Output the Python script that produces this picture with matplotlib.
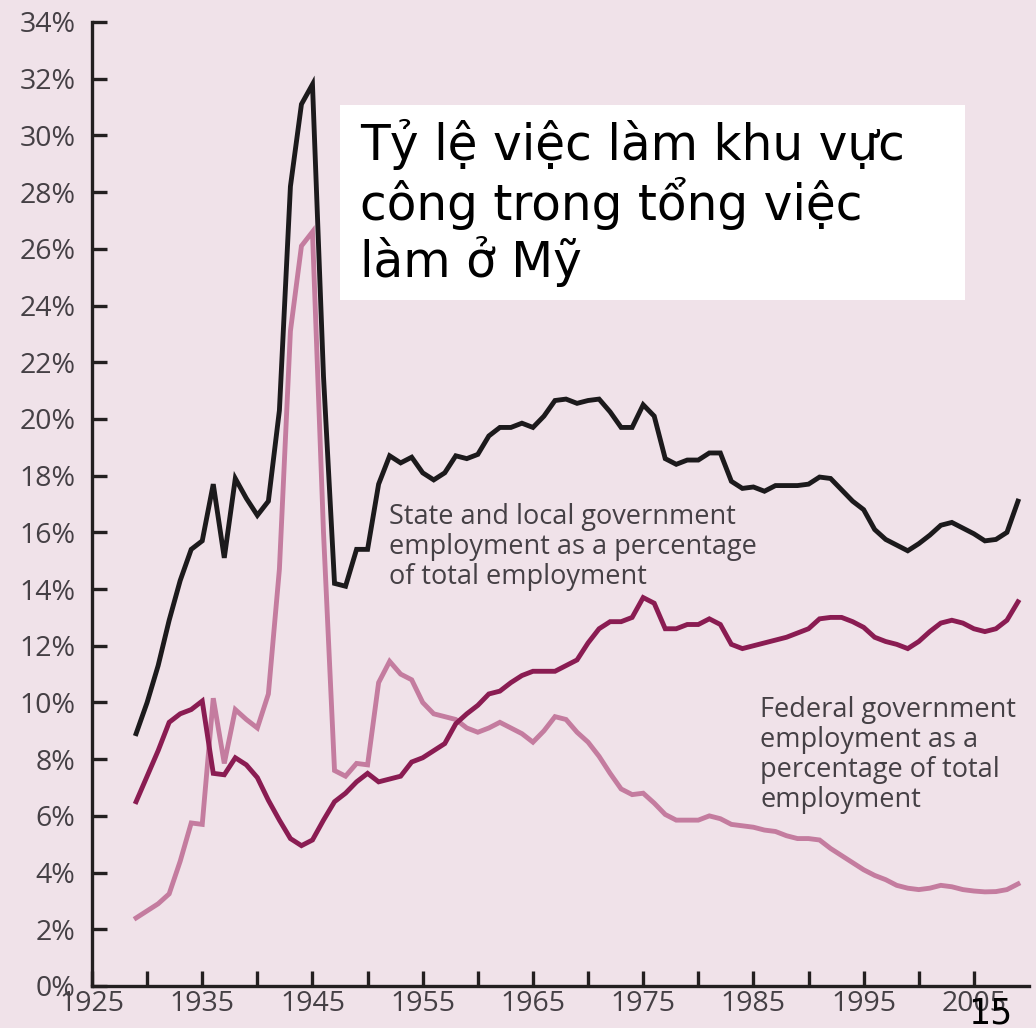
import matplotlib
import matplotlib.pyplot as plt
from matplotlib.patches import Rectangle
from matplotlib.ticker import FixedLocator

matplotlib.use("Agg")

# Data (percent of total employment)
years = list(range(1929, 2010))

total_gov = [
    8.9, 10.0, 11.3, 12.9, 14.3, 15.4, 15.7, 17.7, 15.1, 17.9,
    17.2, 16.6, 17.1, 20.3, 28.2, 31.1, 31.8, 21.5, 14.2, 14.1,
    15.4, 15.4, 17.7, 18.7, 18.45, 18.65, 18.1, 17.85, 18.1, 18.7,
    18.6, 18.75, 19.4, 19.7, 19.7, 19.85, 19.7, 20.1, 20.65, 20.7,
    20.55, 20.65, 20.7, 20.25, 19.7, 19.7, 20.5, 20.1, 18.6, 18.4,
    18.55, 18.55, 18.8, 18.8, 17.8, 17.55, 17.6, 17.45, 17.65, 17.65,
    17.65, 17.7, 17.95, 17.9, 17.5, 17.1, 16.8, 16.1, 15.75, 15.55,
    15.35, 15.6, 15.9, 16.25, 16.35, 16.15, 15.95, 15.7, 15.75, 16.0,
    17.1,
]

state_local = [
    6.5, 7.4, 8.3, 9.3, 9.6, 9.75, 10.05, 7.5, 7.45, 8.05,
    7.8, 7.35, 6.55, 5.85, 5.2, 4.95, 5.15, 5.85, 6.5, 6.8,
    7.2, 7.5, 7.2, 7.3, 7.4, 7.9, 8.05, 8.3, 8.55, 9.25,
    9.6, 9.9, 10.3, 10.4, 10.7, 10.95, 11.1, 11.1, 11.1, 11.3,
    11.5, 12.1, 12.6, 12.85, 12.85, 13.0, 13.7, 13.5, 12.6, 12.6,
    12.75, 12.75, 12.95, 12.75, 12.05, 11.9, 12.0, 12.1, 12.2, 12.3,
    12.45, 12.6, 12.95, 13.0, 13.0, 12.85, 12.65, 12.3, 12.15, 12.05,
    11.9, 12.15, 12.5, 12.8, 12.9, 12.8, 12.6, 12.5, 12.6, 12.9,
    13.55,
]

federal = [
    2.4, 2.65, 2.9, 3.25, 4.4, 5.75, 5.7, 10.15, 7.85, 9.75,
    9.4, 9.1, 10.3, 14.7, 23.1, 26.1, 26.6, 16.0, 7.6, 7.4,
    7.85, 7.8, 10.7, 11.45, 11.0, 10.8, 10.0, 9.6, 9.5, 9.4,
    9.1, 8.95, 9.1, 9.3, 9.1, 8.9, 8.6, 9.0, 9.5, 9.4,
    8.95, 8.6, 8.1, 7.5, 6.95, 6.75, 6.8, 6.45, 6.05, 5.85,
    5.85, 5.85, 6.0, 5.9, 5.7, 5.65, 5.6, 5.5, 5.45, 5.3,
    5.2, 5.2, 5.15, 4.85, 4.6, 4.35, 4.1, 3.9, 3.75, 3.55,
    3.45, 3.4, 3.45, 3.55, 3.5, 3.4, 3.35, 3.32, 3.33, 3.4,
    3.6,
]

y_ticks = list(range(0, 35, 2))
x_major = list(range(1925, 2006, 10))
x_minor = list(range(1930, 2001, 10))

title = "Tỷ lệ việc làm khu vực\ncông trong tổng việc\nlàm ở Mỹ"
label_state = "State and local government\nemployment as a percentage\nof total employment"
label_federal = "Federal government\nemployment as a\npercentage of total\nemployment"
page_number = "15"

# Style
BG = "#f0e2e9"
AXIS = "#231f20"
TEXT = "#454045"
C_TOTAL = "#1c1a1c"
C_STATE = "#8a1c52"
C_FED = "#c47c9f"
W, H = 1036, 1028

fig = plt.figure(figsize=(W / 100, H / 100), dpi=100, facecolor=BG)
ax = fig.add_axes([92 / W, 1 - 986 / H, (1029 - 92) / W, (986 - 22) / H])
ax.set_facecolor(BG)

ax.plot(years, federal, color=C_FED, lw=3.5, solid_joinstyle="miter", zorder=2)
ax.plot(years, state_local, color=C_STATE, lw=3.5, solid_joinstyle="miter", zorder=3)
ax.plot(years, total_gov, color=C_TOTAL, lw=3.5, solid_joinstyle="miter", zorder=4)

ax.set_xlim(1925, 2010)
ax.set_ylim(0, 34)

for side in ("top", "right"):
    ax.spines[side].set_visible(False)
for side in ("left", "bottom"):
    ax.spines[side].set_linewidth(2.4)
    ax.spines[side].set_color(AXIS)

ax.yaxis.set_major_locator(FixedLocator(y_ticks))
ax.set_yticklabels([f"{v}%" for v in y_ticks])
ax.xaxis.set_major_locator(FixedLocator(x_major))
ax.xaxis.set_minor_locator(FixedLocator(x_minor))
ax.set_xticklabels([str(v) for v in x_major])

ax.tick_params(which="both", direction="in", length=11, width=2.4, color=AXIS)
ax.tick_params(axis="y", pad=12, labelsize=20.5, labelcolor=TEXT)
ax.tick_params(axis="x", pad=3, labelsize=20.5, labelcolor=TEXT)
for lab in ax.get_xticklabels() + ax.get_yticklabels():
    lab.set_family("Open Sans")

fig.text(389 / W, 1 - 503 / H, label_state, ha="left", va="top",
         fontsize=19.5, family="Open Sans", color=TEXT, linespacing=1.1)
fig.text(760 / W, 1 - 696 / H, label_federal, ha="left", va="top",
         fontsize=19.5, family="Open Sans", color=TEXT, linespacing=1.1)

# white title box
fig.patches.append(Rectangle((340 / W, 1 - 300 / H), 625 / W, 195 / H,
                             transform=fig.transFigure, facecolor="white",
                             edgecolor="none", zorder=5))
fig.text(360 / W, 1 - 119 / H, title, ha="left", va="top", fontsize=35,
         family="DejaVu Sans", color="black", zorder=6, linespacing=1.15)

fig.text(990 / W, 1 - 1014 / H, page_number, ha="center", va="center",
         fontsize=25, family="DejaVu Sans", color="black", zorder=6)

fig.savefig("out.png", dpi=100, facecolor=BG)
plt.close(fig)
